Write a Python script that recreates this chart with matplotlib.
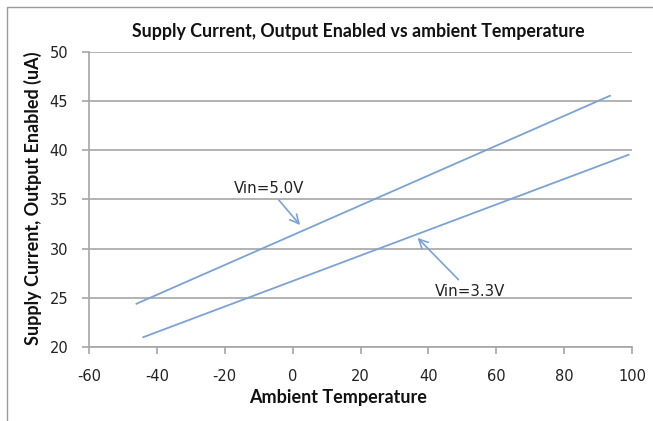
import matplotlib
matplotlib.use("Agg")
import matplotlib.pyplot as plt
from matplotlib.patches import Rectangle

plt.rcParams["axes.unicode_minus"] = False

temp_5v = [-46, 93.5]
curr_5v = [24.4, 45.55]
temp_33v = [-44, 99]
curr_33v = [21.0, 39.55]
x_ticks = [-60, -40, -20, 0, 20, 40, 60, 80, 100]
y_ticks = [20, 25, 30, 35, 40, 45, 50]

line_color = "#7ba2d6"
grid_color = "#a6a6a6"

fig = plt.figure(figsize=(6.53, 4.21), dpi=100)
ax = fig.add_axes([89/653, 1-347/421, (632-89)/653, (347-52)/421])

ax.plot(temp_5v, curr_5v, color=line_color, lw=1.3)
ax.plot(temp_33v, curr_33v, color=line_color, lw=1.3)

ax.set_xlim(-60, 100)
ax.set_ylim(20, 50)
ax.set_xticks(x_ticks)
ax.set_yticks(y_ticks)
ax.yaxis.grid(True, color=grid_color, lw=1.2)
ax.set_axisbelow(True)
for s in ["top", "right"]:
    ax.spines[s].set_visible(False)
for s in ["left", "bottom"]:
    ax.spines[s].set_color(grid_color)
    ax.spines[s].set_linewidth(1.2)
ax.tick_params(axis="both", colors=grid_color, length=5, width=1.2, labelcolor="#222222", labelsize=10.5)
ax.tick_params(axis="x", pad=11)
ax.tick_params(axis="y", pad=10)

ax.annotate("Vin=5.0V", xy=(2.2, 32.4), xytext=(-6.9, 36.1), ha="center", va="center",
            fontsize=10.8, color="#222222",
            arrowprops=dict(arrowstyle="->", color=line_color, lw=1.2, shrinkA=1, shrinkB=0,
                            mutation_scale=16))
ax.annotate("Vin=3.3V", xy=(36.8, 31.1), xytext=(52.4, 25.6), ha="center", va="center",
            fontsize=10.8, color="#222222",
            arrowprops=dict(arrowstyle="->", color=line_color, lw=1.2, shrinkA=2, shrinkB=0,
                            mutation_scale=16))

fig.text(358/653, 1-32/421, "Supply Current, Output Enabled vs ambient Temperature",
         ha="center", va="center", fontsize=12.8, fontweight="bold", family="Lato", color="#111111")
fig.text(338/653, 1-398/421, "Ambient Temperature", ha="center", va="center",
         fontsize=13, fontweight="bold", family="Lato", color="#111111")
fig.text(33/653, 1-198/421, "Supply Current, Output Enabled (uA)", ha="center", va="center",
         rotation=90, fontsize=13, fontweight="bold", family="Lato", color="#111111")

fig.patches.append(Rectangle((7/653, -0.01), 1.0, 1-7/421+0.01, transform=fig.transFigure,
                             fill=False, edgecolor="#9a9a9a", lw=1.0))

fig.savefig("out.png", dpi=100)
